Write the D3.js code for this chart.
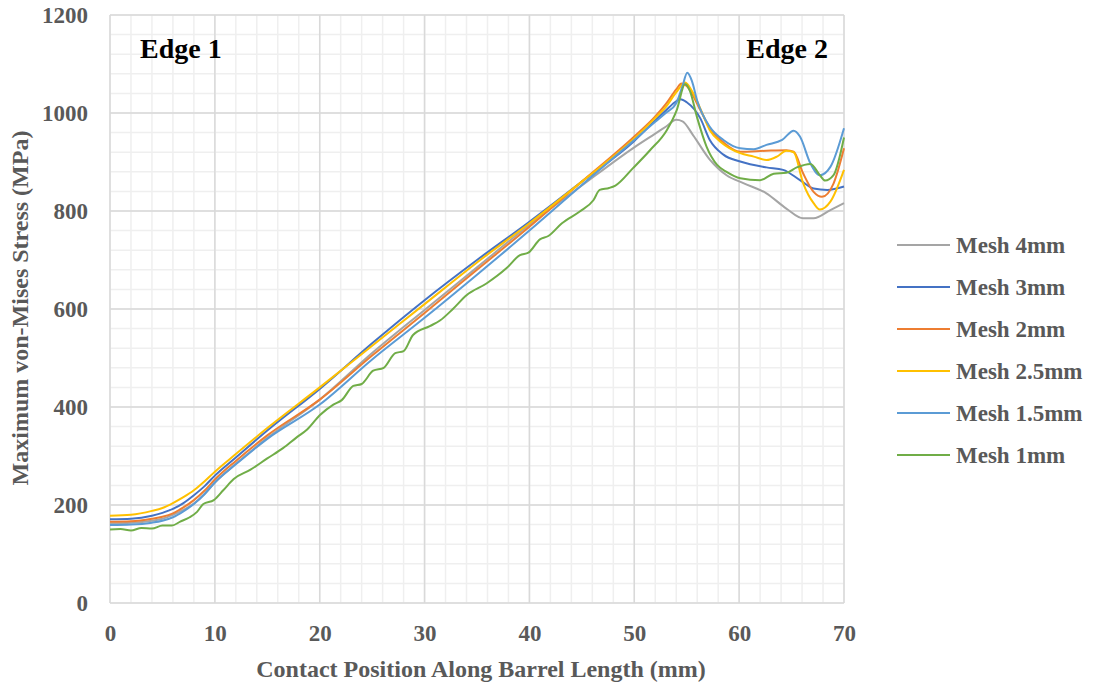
<!DOCTYPE html>
<html>
<head>
<meta charset="utf-8">
<script src="https://cdn.jsdelivr.net/npm/d3@7"></script>
<style>
  html, body { margin: 0; padding: 0; background: #ffffff; }
  svg { display: block; }
  text { font-family: "Liberation Serif", "Times New Roman", serif; font-weight: bold; }
</style>
</head>
<body>
<svg id="chart" width="1094" height="686"></svg>
<script>
// ---- Data: contact position (mm) vs maximum von-Mises stress (MPa) ----
const mesh4 = [[0,163],[2,164],[4,168],[5,172],[6,180],[7,190],[8,203],[9,222],[10,246],[12,284],[15,337],[20,415],[25,510],[30,598],[35,685],[40,772],[45,852],[50,930],[52,958],[53,972],[54,986],[54.6,983],[55.6,955],[57.2,905],[58.8,873],[60.4,857],[62.6,836],[64.5,805],[66.1,785],[67.1,785],[68.7,802],[70,816]];
const mesh3 = [[0,171],[2,172],[4,178],[5,184],[6,192],[7,204],[8,220],[9,238],[10,260],[12,297],[15,352],[20,437],[25,530],[30,618],[35,700],[40,778],[45,860],[50,943],[52,985],[53,1005],[54,1024],[54.4,1028],[55,1022],[56.3,989],[57.2,945],[58.5,915],[60.1,901],[62.6,889],[64.2,884],[65.8,863],[67.1,846],[68.4,843],[70,850]];
const mesh2 = [[0,166],[2,167],[4,172],[5,176],[6,183],[7,195],[8,210],[9,229],[10,252],[12,290],[15,342],[20,415],[25,505],[30,592],[35,680],[40,768],[45,860],[50,952],[52,993],[53,1018],[54,1048],[54.5,1060],[55,1055],[56.3,1006],[57.2,969],[58.5,940],[60.1,921],[62.6,923],[64.5,924],[65.2,921],[66.1,877],[67.1,839],[67.9,829],[69,856],[70,928]];
const mesh25 = [[0,178],[2,180],[4,188],[5,194],[6,204],[7,216],[8,230],[9,248],[10,268],[12,304],[15,357],[20,440],[25,525],[30,610],[35,695],[40,775],[45,860],[50,948],[52,990],[53,1012],[54,1042],[54.85,1062],[55.5,1045],[56.3,1009],[57.2,965],[58.3,940],[60.1,918],[61.4,911],[62.6,904],[63.6,911],[64.5,923],[65.2,920],[66.1,857],[67.1,816],[67.7,803],[68.7,819],[70,884]];
const mesh15 = [[0,159],[2,160],[4,164],[5,168],[6,175],[7,187],[8,202],[9,222],[10,246],[12,283],[15,335],[20,405],[25,497],[30,582],[35,670],[40,760],[45,853],[50,945],[52,982],[53,1000],[54,1020],[54.6,1055],[55.05,1082],[55.5,1065],[56,1025],[57.2,972],[58.5,945],[60.1,928],[61.4,926],[62.6,935],[64.1,945],[65.2,964],[65.8,952],[66.8,897],[67.7,873],[68.7,890],[70,969]];
const mesh1 = [[0,150],[1,151],[2,148],[3,153],[4,152],[5,158],[5.9,158],[6.7,166],[7.6,175],[8.3,186],[8.9,202],[9.9,210],[10.8,230],[11.8,253],[13.4,272],[15,295],[16.5,316],[17.8,338],[18.8,354],[20,383],[21.3,405],[22.1,414],[23.2,443],[24,447],[25.1,474],[26.1,480],[27.2,510],[28,514],[28.9,547],[30.5,565],[31.5,577],[32.7,600],[34,628],[35.9,652],[37.8,683],[39.1,710],[39.9,715],[41,742],[41.8,749],[43.1,775],[44.8,799],[46.1,822],[46.7,843],[47.6,847],[48.2,852],[49.9,888],[51.5,924],[53.1,965],[54.05,1006],[54.85,1059],[55.3,1045],[56,990],[56.9,931],[57.9,894],[58.8,880],[60.1,867],[62,863],[63.3,876],[64.5,878],[65.5,889],[66.8,896],[67.7,873],[68.2,862],[69,873],[70,950]];

const seriesNames = ["Mesh 4mm", "Mesh 3mm", "Mesh 2mm", "Mesh 2.5mm", "Mesh 1.5mm", "Mesh 1mm"];
const seriesValues = [mesh4, mesh3, mesh2, mesh25, mesh15, mesh1];
const seriesColors = ["#A5A5A5", "#4472C4", "#ED7D31", "#FFC000", "#5B9BD5", "#70AD47"];

const xTicks = [0, 10, 20, 30, 40, 50, 60, 70];
const yTicks = [0, 200, 400, 600, 800, 1000, 1200];
const edgeLabels = ["Edge 1", "Edge 2"];

// ---- Layout ----
const svg = d3.select("#chart");
const plot = { left: 110, right: 844, top: 15, bottom: 603 };

const x = d3.scaleLinear().domain([0, 70]).range([plot.left, plot.right]);
const y = d3.scaleLinear().domain([0, 1200]).range([plot.bottom, plot.top]);

const grid = svg.append("g");

// minor gridlines (every 2 mm / 40 MPa)
grid.selectAll(".vminor").data(d3.range(0, 70.01, 2)).join("line")
  .attr("x1", d => x(d)).attr("x2", d => x(d))
  .attr("y1", plot.top).attr("y2", plot.bottom)
  .attr("stroke", "#efefef").attr("stroke-width", 1.5);
grid.selectAll(".hminor").data(d3.range(0, 1200.1, 40)).join("line")
  .attr("x1", plot.left).attr("x2", plot.right)
  .attr("y1", d => y(d)).attr("y2", d => y(d))
  .attr("stroke", "#efefef").attr("stroke-width", 1.5);

// major gridlines
grid.selectAll(".vmajor").data(xTicks).join("line")
  .attr("x1", d => x(d)).attr("x2", d => x(d))
  .attr("y1", plot.top).attr("y2", plot.bottom)
  .attr("stroke", "#d9d9d9").attr("stroke-width", 1.5);
grid.selectAll(".hmajor").data(yTicks).join("line")
  .attr("x1", plot.left).attr("x2", plot.right)
  .attr("y1", d => y(d)).attr("y2", d => y(d))
  .attr("stroke", "#d9d9d9").attr("stroke-width", 1.5);

// ---- Axes (labels only, lines come from the grid) ----
const xAxis = svg.append("g")
  .attr("transform", `translate(0,${plot.bottom})`)
  .call(d3.axisBottom(x).tickValues(xTicks).tickSize(0).tickPadding(22).tickFormat(d3.format("d")));
xAxis.select(".domain").remove();
xAxis.selectAll("text")
  .attr("fill", "#595959")
  .style("font-size", "23px")
  .style("font-family", "'Liberation Serif', serif")
  .style("font-weight", "bold");

const yAxis = svg.append("g")
  .attr("transform", `translate(${plot.left},0)`)
  .call(d3.axisLeft(y).tickValues(yTicks).tickSize(0).tickPadding(22).tickFormat(d3.format("d")));
yAxis.select(".domain").remove();
yAxis.selectAll("text")
  .attr("fill", "#595959")
  .style("font-size", "23px")
  .style("font-family", "'Liberation Serif', serif")
  .style("font-weight", "bold");

// axis titles
svg.append("text")
  .attr("x", 481).attr("y", 677)
  .attr("text-anchor", "middle")
  .attr("fill", "#595959")
  .style("font-size", "24px")
  .text("Contact Position Along Barrel Length (mm)");

svg.append("text")
  .attr("transform", "translate(28,308) rotate(-90)")
  .attr("text-anchor", "middle")
  .attr("fill", "#595959")
  .style("font-size", "24px")
  .text("Maximum von-Mises Stress (MPa)");

// ---- Series ----
const line = d3.line()
  .x(d => x(d[0]))
  .y(d => y(d[1]))
  .curve(d3.curveMonotoneX);

svg.append("g").selectAll("path")
  .data(seriesValues)
  .join("path")
  .attr("d", line)
  .attr("fill", "none")
  .attr("stroke", (d, i) => seriesColors[i])
  .attr("stroke-width", 2)
  .attr("stroke-linejoin", "round");

// ---- Edge annotations ----
svg.append("text")
  .attr("x", 140).attr("y", 58)
  .attr("fill", "#000000")
  .style("font-size", "28px")
  .text(edgeLabels[0]);
svg.append("text")
  .attr("x", 828).attr("y", 58)
  .attr("text-anchor", "end")
  .attr("fill", "#000000")
  .style("font-size", "28px")
  .text(edgeLabels[1]);

// ---- Legend ----
const legend = svg.append("g");
const rows = legend.selectAll("g").data(seriesNames).join("g")
  .attr("transform", (d, i) => `translate(897,${245 + i * 42})`);
rows.append("line")
  .attr("x1", 0).attr("x2", 53)
  .attr("y1", 0).attr("y2", 0)
  .attr("stroke", (d, i) => seriesColors[i])
  .attr("stroke-width", 2);
rows.append("text")
  .attr("x", 59).attr("y", 8)
  .attr("fill", "#595959")
  .style("font-size", "23px")
  .text(d => d);
</script>
</body>
</html>
